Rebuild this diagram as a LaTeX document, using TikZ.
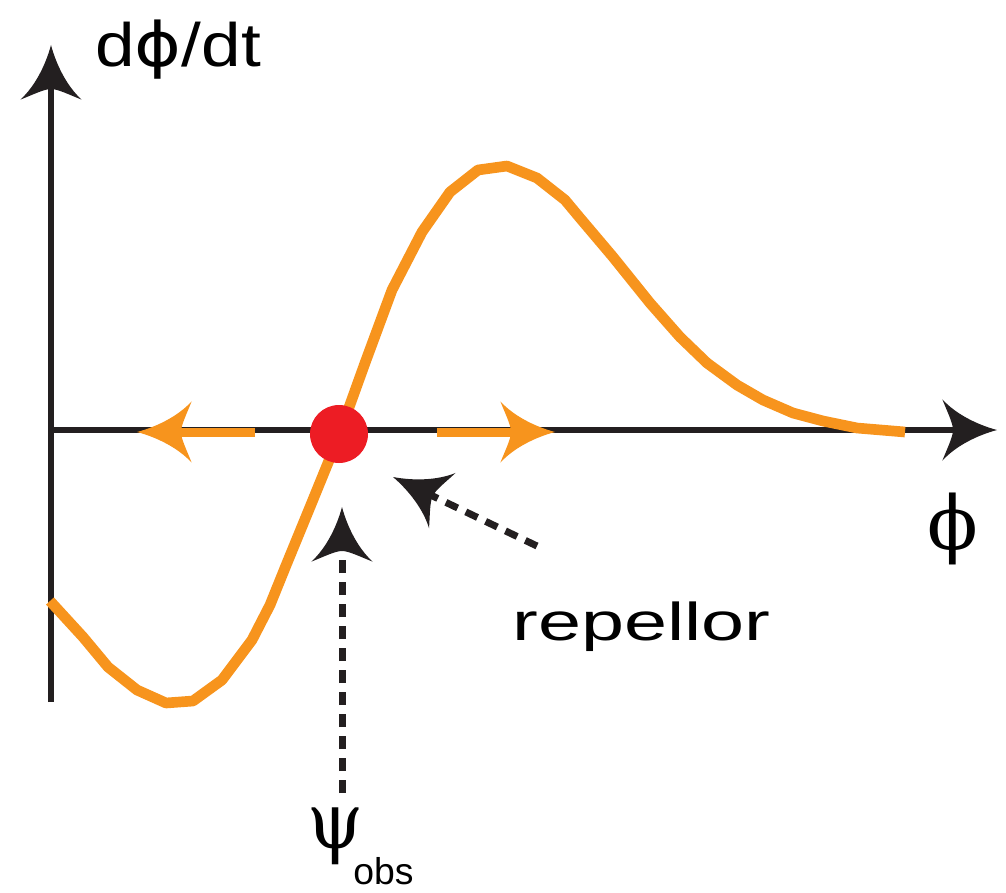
\documentclass[tikz,border=0pt]{standalone}
\usepackage{fontspec}
\newfontfamily\lsans{Liberation Sans}
\newfontfamily\dsans{DejaVu Sans}
\newfontfamily\dserif{DejaVu Serif}
\usetikzlibrary{arrows.meta}
\definecolor{axisblack}{RGB}{35,31,32}
\definecolor{curveorange}{RGB}{247,148,29}
\definecolor{dotred}{RGB}{237,28,36}
\pgfdeclarearrow{
  name = Curvy,
  setup code = {
    \pgfarrowssettipend{0pt}
    \pgfarrowssetlineend{-30pt}
    \pgfarrowssetbackend{-41pt}
    \pgfarrowshullpoint{0pt}{0pt}
    \pgfarrowshullpoint{-41pt}{23pt}
    \pgfarrowshullpoint{-41pt}{-23pt}
  },
  drawing code = {
    \pgfpathmoveto{\pgfqpoint{0pt}{0pt}}
    \pgfpathcurveto{\pgfqpoint{-15pt}{4pt}}{\pgfqpoint{-31pt}{12pt}}{\pgfqpoint{-41pt}{23pt}}
    \pgfpathcurveto{\pgfqpoint{-37pt}{13pt}}{\pgfqpoint{-33pt}{5pt}}{\pgfqpoint{-33pt}{0pt}}
    \pgfpathcurveto{\pgfqpoint{-33pt}{-5pt}}{\pgfqpoint{-37pt}{-13pt}}{\pgfqpoint{-41pt}{-23pt}}
    \pgfpathcurveto{\pgfqpoint{-31pt}{-12pt}}{\pgfqpoint{-15pt}{-4pt}}{\pgfqpoint{0pt}{0pt}}
    \pgfpathclose
    \pgfusepathqfill
  }
}
\tikzset{
  axisline/.style={draw=axisblack, line width=4.5pt, -Curvy},
  flowarrow/.style={draw=curveorange, line width=6.75pt, -Curvy},
  pointer/.style={draw=axisblack, line width=5.25pt, dash pattern=on 9.75pt off 6.75pt, -Curvy},
  curveline/.style={draw=curveorange, line width=8pt, line join=round},
  dot/.style={circle, fill=dotred, minimum size=43.5pt, inner sep=0pt},
  sanslabel/.style={inner sep=0pt, text=black},
}
\begin{document}
\begin{tikzpicture}[x=0.75pt, y=-0.75pt]
\useasboundingbox (0,0) rectangle (1006,892);
% axes
\coordinate (ybot) at (51,702);
\coordinate (ytop) at (51,45);
\coordinate (xleft) at (51,430);
\coordinate (xright) at (997,430);
\draw[axisline] (ybot) -- (ytop);
\draw[axisline] (xleft) -- (xright);
% curve
\draw[curveline] plot coordinates {(50,601) (83,637) (108,667) (137,690) (166,703) (193,701) (222,680) (252,640) (270,605) (287,563) (310,507) (330,458) (347,413) (365,363) (392,290) (422,232) (450,192) (478,170) (507,166) (537,178) (565,200) (580,218) (613,257) (650,303) (680,337) (707,363) (737,385) (763,400) (793,413) (823,421) (857,428) (905,432)};
% flow arrows
\coordinate (lstart) at (255,432);
\coordinate (ltip) at (137,432);
\coordinate (rstart) at (437,432);
\coordinate (rtip) at (555,432);
\draw[flowarrow] (lstart) -- (ltip);
\draw[flowarrow] (rstart) -- (rtip);
% repellor dot
\node[dot] (rep) at (339,434) {};
% pointers
\coordinate (vstart) at (342,793);
\coordinate (vtip) at (342,507);
\coordinate (dstart) at (537,546);
\coordinate (dtip) at (393,477);
\draw[pointer] (vstart) -- (vtip);
\draw[pointer] (dstart) -- (dtip);
% labels
\node[sanslabel, anchor=base west] (ylab) at (95,67) {\fontsize{46}{46}\selectfont\scalebox{1.16}[1]{\lsans d\dsans ϕ\lsans /dt}};
\node[sanslabel, anchor=north] (xlab) at (953,493) {\resizebox*{!}{54pt}{\dserif ϕ}};
\node[sanslabel, anchor=base west] (replab) at (512,640) {\lsans\fontsize{40}{40}\selectfont\scalebox{1.45}[1]{repellor}};
\node[sanslabel, anchor=north] (psi) at (336,808) {\resizebox*{42pt}{42.75pt}{\dserif ψ}};
\node[sanslabel, anchor=base west, text depth=0pt] (obs) at (353,884) {\lsans\fontsize{28}{28}\selectfont obs};
\end{tikzpicture}
\end{document}
